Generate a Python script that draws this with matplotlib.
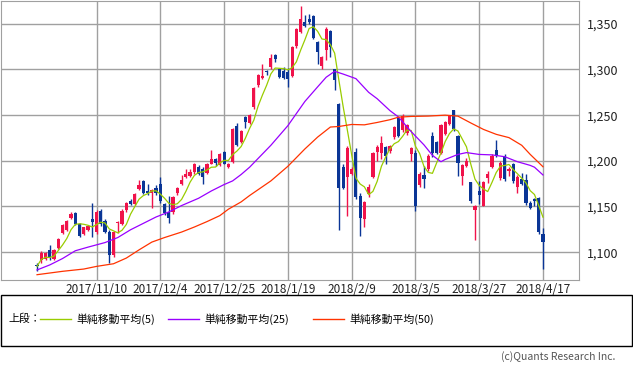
import numpy as np
import pandas as pd
import matplotlib
matplotlib.use("Agg")
import matplotlib.pyplot as plt
from matplotlib.lines import Line2D
from matplotlib.patches import Rectangle

plt.rcParams["font.family"] = ["Noto Sans CJK JP", "DejaVu Sans"]

# daily candles, 2017/10 .. 2018/4/17
opens = [
    1086, 1091, 1093, 1102.5, 1092.5, 1104.5, 1120.5, 1124.5, 1137, 1143,
    1131, 1120, 1124.5, 1136.5, 1122, 1145.5, 1134.5, 1122.5, 1096.5, 1131.5,
    1131, 1146, 1156.5, 1153, 1169, 1178, 1167, 1164.5, 1170, 1174.5,
    1153, 1144.5, 1144, 1165, 1174.5, 1182.5, 1183.5, 1187.5, 1193.5, 1191.5,
    1187, 1197, 1202, 1195.5, 1210, 1193, 1199, 1238, 1221, 1248,
    1241.5, 1259, 1282.5, 1291, 1298, 1302.5, 1315.5, 1301, 1298, 1297,
    1293, 1326, 1341, 1352.5, 1355.5, 1359, 1330, 1303.5, 1321, 1342,
    1300, 1262, 1193.5, 1182.5, 1186, 1210, 1161, 1136.5, 1164, 1182.5,
    1210, 1209, 1215, 1211, 1226, 1246.5, 1233.5, 1230, 1208, 1209,
    1173, 1185, 1191, 1227, 1221, 1209, 1229, 1240.5, 1255.5, 1227,
    1183.5, 1194.5, 1176.5, 1146.5, 1167.5, 1151, 1181, 1193.5, 1211.5, 1181,
    1205.5, 1188.5, 1196.5, 1171, 1180, 1179, 1153.5, 1158.5, 1159.5, 1120,
]
highs = [
    1088, 1101, 1100, 1108, 1103, 1115.5, 1131, 1135.5, 1144, 1144,
    1132, 1128, 1130, 1153.5, 1146, 1147, 1136, 1124, 1123, 1134.5,
    1147, 1155, 1158, 1165, 1179, 1179, 1175, 1169, 1173.5, 1182.5,
    1154, 1161, 1161, 1171, 1184.5, 1191, 1191.5, 1198, 1195, 1193,
    1198, 1211.5, 1203, 1209, 1211, 1198, 1236, 1241, 1234, 1249,
    1251, 1281, 1295.5, 1306, 1299, 1317, 1317.5, 1302, 1303, 1302,
    1326, 1345, 1370, 1360, 1361, 1360, 1331, 1315, 1346, 1343,
    1301, 1263, 1196, 1216, 1193, 1214.5, 1165, 1156, 1174.5, 1210,
    1217, 1227, 1216, 1217, 1238, 1248, 1251, 1240, 1215, 1212,
    1188, 1194.5, 1207, 1232, 1222, 1240, 1244, 1250.5, 1256, 1228,
    1197, 1203, 1177, 1152, 1178, 1178, 1189, 1207, 1222.5, 1200,
    1207, 1193, 1198, 1184, 1187, 1186, 1156, 1159, 1160, 1126,
]
lows = [
    1079, 1088, 1091, 1091.5, 1091, 1103.5, 1119.5, 1123, 1136, 1130,
    1117, 1119, 1123, 1117, 1120, 1129, 1121, 1088, 1095, 1121,
    1130, 1144, 1152, 1152, 1168, 1164, 1163, 1148, 1163, 1154,
    1141, 1131.5, 1142, 1163, 1173, 1181, 1182, 1186, 1185, 1175,
    1186, 1196, 1194, 1194, 1196, 1192, 1198, 1216, 1219, 1236,
    1240, 1257, 1281, 1290, 1293.5, 1301, 1308, 1291, 1290, 1281,
    1292, 1323, 1340, 1347, 1350, 1333, 1306, 1300, 1310, 1313.5,
    1277, 1124, 1169, 1140, 1184, 1158, 1118, 1127.5, 1160, 1181,
    1200, 1202, 1196, 1209, 1224, 1226, 1232, 1228, 1200, 1145.5,
    1171, 1170, 1189, 1204, 1207, 1207, 1228, 1239, 1233, 1183.5,
    1173.5, 1193, 1154, 1113, 1153, 1150, 1176, 1192, 1204, 1179,
    1178, 1183, 1176, 1164.5, 1173, 1152, 1147, 1150, 1120, 1082,
]
closes = [
    1084.5, 1099.5, 1099, 1093.5, 1102, 1114.5, 1130, 1134.5, 1142, 1131,
    1118, 1127, 1129, 1132.5, 1144.5, 1131, 1122.5, 1096.5, 1122, 1133.5,
    1145.5, 1154, 1153, 1163.5, 1174, 1165, 1164.5, 1168, 1164.5, 1155.5,
    1142.5, 1137, 1160, 1170, 1179, 1186, 1188, 1197, 1186, 1182.5,
    1197, 1202.5, 1198, 1208, 1197, 1196.5, 1234.5, 1217, 1233, 1242.5,
    1250.5, 1280, 1293.5, 1292.5, 1297, 1313, 1312, 1292, 1291, 1290,
    1325, 1344, 1355.5, 1348, 1352, 1334.5, 1319, 1313.5, 1344.5, 1324.5,
    1288, 1170, 1170, 1214, 1191.5, 1160, 1137.5, 1154.5, 1171.5, 1209,
    1215, 1220, 1205.5, 1216, 1237, 1227, 1249, 1239, 1214, 1151,
    1186, 1180, 1205.5, 1209, 1209, 1239, 1243, 1249, 1234.5, 1198,
    1195.5, 1200, 1155.5, 1151, 1163, 1176.5, 1185.5, 1205.5, 1205.5, 1198,
    1180, 1191, 1177.5, 1182.5, 1174.5, 1153.5, 1148.5, 1156.5, 1122, 1111,
]

# 25- and 50-day averages, read at a number of sessions from the chart
ma25_idx = [0, 3, 6, 9, 12, 16, 19, 22, 25, 28, 31, 34, 38, 41, 44, 46,
            48, 50, 55, 59, 63, 66, 68, 70, 72, 75, 78, 80, 83, 85, 88, 91,
            93, 95, 96, 99, 101, 104, 107, 110, 113, 116, 117, 119]
ma25_val = [1080.5, 1086, 1093, 1101.5, 1105.5, 1110.5, 1116, 1124.5,
            1131.5, 1138.5, 1144, 1151, 1159, 1167, 1174, 1178, 1185, 1193,
            1217, 1238.5, 1265, 1281, 1291.5, 1298, 1295, 1290, 1275, 1268,
            1255, 1248, 1232, 1217.5, 1206, 1199, 1201.5, 1207, 1209, 1207,
            1206.5, 1204.5, 1199, 1195, 1193, 1184.5]
ma50_idx = [0, 6, 11, 14, 18, 21, 24, 27, 30, 34, 37, 40, 43, 45, 48, 50,
            55, 59, 63, 66, 69, 71, 74, 77, 80, 83, 85, 88, 92, 96, 99, 102,
            105, 108, 111, 114, 116, 119]
ma50_val = [1075.3, 1079, 1081.5, 1084.4, 1087.3, 1093.5, 1102.5, 1111,
            1116, 1122, 1127.5, 1133.5, 1140, 1147, 1155, 1162, 1178, 1194,
            1213, 1226, 1237, 1237.6, 1239.8, 1239.4, 1242, 1245, 1247.8,
            1248.6, 1249, 1250, 1248.9, 1241.5, 1234.4, 1229, 1225.4, 1217,
            1207, 1193.5]

tick_pos = [14, 29, 44, 59, 74, 89, 104, 119]
tick_labels = ["2017/11/10", "2017/12/4", "2017/12/25", "2018/1/19",
               "2018/2/9", "2018/3/5", "2018/3/27", "2018/4/17"]
y_ticks = [1100, 1150, 1200, 1250, 1300, 1350]

UP = "#f0124a"
DOWN = "#0a3596"
C5, C25, C50 = "#99cc00", "#9900ff", "#ff3300"
GRID = "#a0a0a0"

W, H = 633, 371
fig = plt.figure(figsize=(W / 100, H / 100), dpi=100)
ax = fig.add_axes([1 / W, 1 - 280 / H, 578 / W, 279 / H])

o = np.array(opens)
c = np.array(closes)
x = np.arange(len(o))
up = c >= o
col = np.where(up, UP, DOWN)

ax.vlines(x, lows, highs, colors=col, lw=1, zorder=3)
body_lo = np.minimum(o, c)
body_h = np.maximum(np.abs(c - o), 0.8)
ax.bar(x, body_h, bottom=body_lo, width=0.75, color=col, lw=0, zorder=4)

ma5 = pd.Series(closes).rolling(5, min_periods=1).mean()
ax.plot(x, ma5, color=C5, lw=0.9, zorder=5)
ax.plot(ma25_idx, ma25_val, color=C25, lw=0.9, zorder=5)
ax.plot(ma50_idx, ma50_val, color=C50, lw=0.9, zorder=5)

ax.set_xlim(-8.47, 127.47)
ax.set_ylim(1069.5, 1375)
ax.set_xticks(tick_pos, tick_labels)
ax.set_yticks(y_ticks, [f"{v:,}" for v in y_ticks])
ax.yaxis.tick_right()
ax.tick_params(length=0, labelsize=8.5, colors="#222222")
ax.tick_params(axis="y", pad=6, labelsize=9)
ax.tick_params(axis="x", pad=2)
ax.grid(True, color=GRID, lw=1)
ax.set_axisbelow(True)
for s in ax.spines.values():
    s.set_color(GRID)

# legend box under the chart
fig.add_artist(Rectangle((0.5 / W, 1 - 346 / H), 631.5 / W, 51 / H,
                         transform=fig.transFigure, fill=False,
                         edgecolor="black", lw=1))
ly = 1 - 319 / H
fig.text(8 / W, ly, "上段：", fontsize=7.8, va="center")
for x0, x1, colr, lab in [(40, 71, C5, "単純移動平均(5)"),
                          (168, 199, C25, "単純移動平均(25)"),
                          (313, 344, C50, "単純移動平均(50)")]:
    fig.add_artist(Line2D([x0 / W, x1 / W], [ly, ly], color=colr, lw=1))
    fig.text((x1 + 5) / W, ly, lab, fontsize=7.8, va="center")

fig.text(615 / W, 1 - 357 / H, "(c)Quants Research Inc.", fontsize=7.5,
         color="#555555", ha="right", va="center")

fig.savefig("out.png", dpi=100)
